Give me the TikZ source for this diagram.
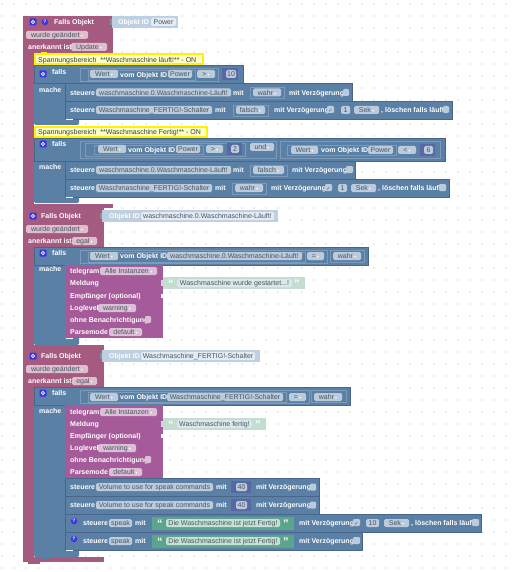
\documentclass[tikz,border=0pt]{standalone}
\usepackage{fontspec}
\setmainfont{Liberation Sans}
\newfontfamily\symfont{DejaVu Sans}
\definecolor{trigmag}{HTML}{A55B80}
\definecolor{trigpill}{HTML}{DBBFCD}
\definecolor{ctrlblue}{HTML}{5B80A5}
\definecolor{ctrledge}{HTML}{49668A}
\definecolor{ctrlline}{HTML}{7C9ABA}
\definecolor{ctrlpill}{HTML}{BBCBDB}
\definecolor{idblue}{HTML}{BDCFE0}
\definecolor{idpill}{HTML}{E4ECF3}
\definecolor{telepurple}{HTML}{A55B99}
\definecolor{telepill}{HTML}{DBBFD6}
\definecolor{quotepale}{HTML}{C3DDD0}
\definecolor{quotegreen}{HTML}{5BA58C}
\definecolor{quotepill}{HTML}{C6E0D5}
\definecolor{numindigo}{HTML}{5B67A5}
\definecolor{iconblue}{HTML}{3A35E0}
\definecolor{notefill}{HTML}{FFFFC7}
\definecolor{notestroke}{HTML}{FFF200}
\definecolor{inktext}{HTML}{4A5560}
\definecolor{griddot}{HTML}{EBEBEB}
\newcommand{\dd}{\,{\symfont\fontsize{4}{4}\selectfont\textcolor{white}{▾}}}
\tikzset{
	every node/.append style={text height=6.2pt, text depth=0.8pt},
	lab/.style={anchor=west, inner sep=0pt, text=white, font=\fontsize{7}{8}\selectfont\bfseries},
	pill/.style={draw=none, fill=ctrlpill, rounded corners=1.5pt, text=inktext},
	trigp/.style={pill, fill=trigpill},
	telep/.style={pill, fill=telepill},
	idp/.style={pill, fill=idpill},
	quotep/.style={pill, fill=quotepill},
	stmt/.style={fill=ctrlblue, draw=ctrledge, line width=0.5pt},
	slot/.style={draw=ctrlline, line width=0.4pt},
	box/.style={draw=none, fill=ctrlpill, rounded corners=1.2pt},
	qmark/.style={anchor=west, inner sep=0pt, text=white, font=\fontsize{11}{11}\selectfont\bfseries},
	helpicon/.style={circle, fill=iconblue, text=white, inner sep=0pt, minimum size=6.5pt, font=\fontsize{5}{5}\selectfont\bfseries, text height=3.6pt, text depth=0pt}
}
\begin{document}
\begin{tikzpicture}[x=1pt, y=-1pt, font=\fontsize{7}{8}\selectfont]
	\path[fill=white, use as bounding box] (0,0) rectangle (512,572);
	% --- grille ---
	\foreach \gx in {2,14,...,506} \foreach \gy in {4,16,...,568}
		\fill[griddot] (\gx-0.7,\gy-0.7) rectangle (\gx+0.7,\gy+0.7);

	% --- bloc 1 ---
	\fill[trigmag] (23,16) rectangle (113,53);
	\fill[trigmag] (23,53) rectangle (34,204);
	\fill[trigmag] (23,204) rectangle (113,208);
	\draw[fill=idblue, draw=none] (112,16) rectangle (178,28);
	\fill[idblue!70!black] (110,19) rectangle (112,25);
	\node[lab] (id1lab) at (118,22) {Objekt ID};
	\draw[idp] (151,18) rectangle (176,26) node[midway] (id1val) {Power};
	\node[helpicon] (help1) at (45,22) {?};
	\node[lab] (trig1) at (54,22) {Falls Objekt};
	\draw[trigp] (26,31) rectangle (88,39) node[midway] (chg1) {wurde geändert\dd};
	\node[lab] (ack1) at (28,47) {anerkannt ist};
	\draw[trigp] (71,43) rectangle (107,51) node[midway] (ack1val) {Update\dd};

	% --- falls 1 ---
	\fill[ctrlblue] (34,65) rectangle (65,119);
	\fill[ctrlblue, rounded corners=1.5pt] (34,115) rectangle (79,125);
	\draw[stmt] (34,65) rectangle (243,83);
	\draw[slot] (80,68) rectangle (218,81);
	\draw[slot] (88,70) rectangle (195,80);
	\node[lab] (if1) at (52,72) {falls};
	\node[lab] (do1) at (39,90) {mache};
	\draw[pill] (90,70) rectangle (118,78) node[midway] (a1) {Wert\dd};
	\node[lab] (a2) at (120,74.5) {vom Objekt ID};
	\draw[pill] (168,70) rectangle (192,78) node[midway] (a3) {Power};
	\draw[pill] (197,70) rectangle (215,78) node[midway] (a4) {>\dd};
	\draw[fill=numindigo, draw=none] (222,68) rectangle (238,80);
	\draw[pill] (226,70) rectangle (236,78) node[midway] (a5) {10};

	\draw[stmt] (65,83) rectangle (352,101);
	\node[lab] (b1) at (70,92.5) {steuere};
	\draw[pill] (96,88.5) rectangle (231,96.5) node[midway] (b2) {waschmaschine.0.Waschmaschine-Läuft!};
	\node[lab] (b3) at (233,92.5) {mit};
	\draw[slot] (250,87) rectangle (284,98);
	\draw[pill] (253,88.5) rectangle (281,96.5) node[midway] (b4) {wahr\dd};
	\node[lab] (b5) at (289,92.5) {mit Verzögerung};
	\draw[box] (343,89) rectangle (349,96);

	\draw[stmt] (65,101) rectangle (452,119);
	\node[lab] (c1) at (70,110) {steuere};
	\draw[pill] (96,106) rectangle (212,114) node[midway] (c2) {Waschmaschine\_FERTIG!-Schalter};
	\node[lab] (c3) at (215,110) {mit};
	\draw[slot] (233,105) rectangle (268,116);
	\draw[pill] (236,106) rectangle (265,114) node[midway] (c4) {falsch\dd};
	\node[lab] (c5) at (274,110) {mit Verzögerung};
	\draw[box] (327,106) rectangle (334,113) node[midway, text=inktext] (c6) {\symfont\fontsize{5}{5}\selectfont ✓};
	\draw[pill] (341,106) rectangle (350,114) node[midway] (c7) {1};
	\draw[pill] (354,106) rectangle (379,114) node[midway] (c8) {Sek\dd};
	\node[lab] (c9) at (381,110) {, löschen falls läuft};
	\draw[box] (443,106) rectangle (449,113);

	% --- commentaires ---
	\draw[fill=notefill, draw=notestroke, line width=1.5pt] (35,54) rectangle (203,64);
	\fill[notestroke] (41,52) rectangle (47,54);
	\node[anchor=west, inner sep=0pt, text=inktext!70!black] (note1) at (38,59.5) {Spannungsbereich\ \ **Waschmaschine läuft!** - ON};
	\draw[fill=notefill, draw=notestroke, line width=1.5pt] (35,127) rectangle (207,137);
	\fill[notestroke] (41,137) rectangle (47,139);
	\node[anchor=west, inner sep=0pt, text=inktext!70!black] (note2) at (38,132) {Spannungsbereich\ \ **Waschmaschine Fertig!** - ON};

	% --- falls 2 ---
	\fill[ctrlblue] (34,138) rectangle (65,197);
	\fill[ctrlblue, rounded corners=1.5pt] (34,190) rectangle (79,203);
	\draw[stmt] (34,138) rectangle (445,161);
	\draw[slot] (80,141) rectangle (276,158);
	\draw[slot] (85,143) rectangle (245,156);
	\draw[slot] (94,145) rectangle (203,154);
	\draw[slot] (280,141) rectangle (440,158);
	\draw[slot] (287,145) rectangle (396,155);
	\node[lab] (if2) at (52,144) {falls};
	\node[lab] (do2) at (39,167) {mache};
	\draw[pill] (98,145) rectangle (126,153) node[midway] (d1) {Wert\dd};
	\node[lab] (d2) at (128,149.5) {vom Objekt ID};
	\draw[pill] (176,145) rectangle (200,153) node[midway] (d3) {Power};
	\draw[pill] (206,145) rectangle (223,153) node[midway] (d4) {>\dd};
	\draw[fill=numindigo, draw=none] (227,143) rectangle (242,155);
	\draw[pill] (231,145) rectangle (239,153) node[midway] (d5) {2};
	\draw[pill] (250,143) rectangle (274,151) node[midway] (d6) {und\dd};
	\draw[pill] (291,146) rectangle (318,154) node[midway] (d7) {Wert\dd};
	\node[lab] (d8) at (321,150) {vom Objekt ID};
	\draw[pill] (368,146) rectangle (393,154) node[midway] (d9) {Power};
	\draw[pill] (398,146) rectangle (416,154) node[midway] (d10) {<\dd};
	\draw[fill=numindigo, draw=none] (420,144) rectangle (435,156);
	\draw[pill] (424,146) rectangle (433,154) node[midway] (d11) {6};

	\draw[stmt] (65,161) rectangle (355,179);
	\node[lab] (e1) at (70,170) {steuere};
	\draw[pill] (96,166) rectangle (231,174) node[midway] (e2) {waschmaschine.0.Waschmaschine-Läuft!};
	\node[lab] (e3) at (233,170) {mit};
	\draw[slot] (250,165) rectangle (287,176);
	\draw[pill] (253,166) rectangle (284,174) node[midway] (e4) {falsch\dd};
	\node[lab] (e5) at (292,170) {mit Verzögerung};
	\draw[box] (346,166) rectangle (353,173);

	\draw[stmt] (65,179) rectangle (449,197);
	\node[lab] (f1) at (70,188) {steuere};
	\draw[pill] (96,184) rectangle (212,192) node[midway] (f2) {Waschmaschine\_FERTIG!-Schalter};
	\node[lab] (f3) at (215,188) {mit};
	\draw[slot] (232,183) rectangle (266,194);
	\draw[pill] (235,184) rectangle (263,192) node[midway] (f4) {wahr\dd};
	\node[lab] (f5) at (271,188) {mit Verzögerung};
	\draw[box] (325,184) rectangle (332,191) node[midway, text=inktext] (f6) {\symfont\fontsize{5}{5}\selectfont ✓};
	\draw[pill] (338,184) rectangle (347,192) node[midway] (f7) {1};
	\draw[pill] (351,184) rectangle (376,192) node[midway] (f8) {Sek\dd};
	\node[lab] (f9) at (378,188) {, löschen falls läuft};
	\draw[box] (439,184) rectangle (446,191);

	% --- bloc 2 ---
	\fill[trigmag] (23,208) rectangle (104,247);
	\fill[trigmag] (23,247) rectangle (34,345);
	\fill[trigmag] (23,345) rectangle (104,349);
	\draw[fill=idblue, draw=none] (102,210) rectangle (278,222);
	\fill[idblue!70!black] (100,213) rectangle (102,219);
	\node[lab] (id2lab) at (109,216) {Objekt ID};
	\draw[idp] (141,212) rectangle (274,220) node[midway] (id2val) {waschmaschine.0.Waschmaschine-Läuft!};
	\node[lab] (trig2) at (41,216) {Falls Objekt};
	\draw[trigp] (26,225) rectangle (88,233) node[midway] (chg2) {wurde geändert\dd};
	\node[lab] (ack2) at (28,241) {anerkannt ist};
	\draw[trigp] (72,237) rectangle (97,245) node[midway] (ack2val) {egal\dd};

	\fill[ctrlblue] (34,247) rectangle (65,338);
	\fill[ctrlblue, rounded corners=1.5pt] (34,330) rectangle (79,345);
	\draw[stmt] (34,247) rectangle (368,265);
	\draw[slot] (80,250) rectangle (327,263);
	\draw[slot] (88,252) rectangle (305,262);
	\draw[slot] (330,250) rectangle (364,262);
	\node[lab] (if3) at (52,253) {falls};
	\node[lab] (do3) at (39,269) {mache};
	\draw[pill] (90,252) rectangle (118,260) node[midway] (g1) {Wert\dd};
	\node[lab] (g2) at (120,256) {vom Objekt ID};
	\draw[pill] (167,252) rectangle (302,260) node[midway] (g3) {waschmaschine.0.Waschmaschine-Läuft!};
	\draw[pill] (307,252) rectangle (324,260) node[midway] (g4) {=\dd};
	\draw[pill] (333,252) rectangle (361,260) node[midway] (g5) {wahr\dd};

	\fill[telepurple] (65,265) rectangle (163,338);
	\node[lab] (h1) at (70,271) {telegram};
	\draw[telep] (100,267) rectangle (157,275) node[midway] (h2) {Alle Instanzen\dd};
	\node[lab] (h3) at (70,283) {Meldung};
	\node[lab] (h4) at (70,296) {Empfänger (optional)};
	\node[lab] (h5) at (70,308) {Loglevel};
	\draw[telep] (98,304) rectangle (136,312) node[midway] (h6) {warning\dd};
	\node[lab] (h7) at (70,320) {ohne Benachrichtigung};
	\draw[fill=telepill, draw=none, rounded corners=1.2pt] (145,316) rectangle (151,323);
	\node[lab] (h8) at (70,332) {Parsemode};
	\draw[telep] (109,328) rectangle (142,336) node[midway] (h9) {default\dd};
	\fill[white] (160.5,294) rectangle (163,298);

	\fill[quotepale] (160.5,280) rectangle (163,286);
	\fill[quotepale] (163,277) rectangle (305,289);
	\node[qmark] (q1a) at (168,285) {“};
	\draw[quotep, fill=idpill!70!quotepill] (177,279) rectangle (292,287) node[midway] (q1b) {Waschmaschine wurde gestartet...!};
	\node[qmark] (q1c) at (294,285) {”};

	% --- bloc 3 ---
	\fill[trigmag] (23,349) rectangle (104,387);
	\fill[trigmag] (23,387) rectangle (34,557);
	\fill[trigmag] (23,557) rectangle (104,562);
	\fill[trigmag] (28,562) rectangle (40,564);
	\draw[fill=idblue, draw=none] (102,350) rectangle (260,362);
	\fill[idblue!70!black] (100,353) rectangle (102,359);
	\node[lab] (id3lab) at (109,356) {Objekt ID};
	\draw[idp] (141,352) rectangle (255,360) node[midway] (id3val) {Waschmaschine\_FERTIG!-Schalter};
	\node[lab] (trig3) at (41,356) {Falls Objekt};
	\draw[trigp] (26,365) rectangle (88,373) node[midway] (chg3) {wurde geändert\dd};
	\node[lab] (ack3) at (28,381) {anerkannt ist};
	\draw[trigp] (72,377) rectangle (97,385) node[midway] (ack3val) {egal\dd};

	\fill[ctrlblue] (34,387) rectangle (65,550);
	\fill[ctrlblue, rounded corners=1.5pt] (34,545) rectangle (79,557);
	\fill[ctrlblue] (41,557) rectangle (49,558.5);
	\draw[stmt] (34,387) rectangle (350,405);
	\draw[slot] (80,390) rectangle (309,403);
	\draw[slot] (88,392) rectangle (286,402);
	\draw[slot] (311,390) rectangle (346,402);
	\node[lab] (if4) at (52,393) {falls};
	\node[lab] (do4) at (39,411) {mache};
	\draw[pill] (90,393) rectangle (118,401) node[midway] (i1) {Wert\dd};
	\node[lab] (i2) at (120,397) {vom Objekt ID};
	\draw[pill] (167,393) rectangle (283,401) node[midway] (i3) {Waschmaschine\_FERTIG!-Schalter};
	\draw[pill] (289,393) rectangle (306,401) node[midway] (i4) {=\dd};
	\draw[pill] (314,393) rectangle (342,401) node[midway] (i5) {wahr\dd};

	\fill[telepurple] (65,405) rectangle (163,478);
	\node[lab] (j1) at (70,412) {telegram};
	\draw[telep] (100,408) rectangle (157,416) node[midway] (j2) {Alle Instanzen\dd};
	\node[lab] (j3) at (70,424) {Meldung};
	\node[lab] (j4) at (70,436) {Empfänger (optional)};
	\node[lab] (j5) at (70,448) {Loglevel};
	\draw[telep] (98,444) rectangle (136,452) node[midway] (j6) {warning\dd};
	\node[lab] (j7) at (70,460) {ohne Benachrichtigung};
	\draw[fill=telepill, draw=none, rounded corners=1.2pt] (145,456) rectangle (151,463);
	\node[lab] (j8) at (70,472) {Parsemode};
	\draw[telep] (109,468) rectangle (142,476) node[midway] (j9) {default\dd};
	\fill[white] (160.5,434) rectangle (163,438);

	\fill[quotepale] (160.5,421) rectangle (163,427);
	\fill[quotepale] (163,418) rectangle (266,430);
	\node[qmark] (q2a) at (168,426) {“};
	\draw[quotep, fill=idpill!70!quotepill] (177,420) rectangle (252,428) node[midway] (q2b) {Waschmaschine fertig!};
	\node[qmark] (q2c) at (255,426) {”};

	% --- volume ---
	\foreach \rowtop/\rowmid/\rowid in {478/487/k, 496/505/l} {
		\draw[stmt] (65,\rowtop) rectangle (319,\rowtop+18);
		\node[lab] (\rowid1) at (70,\rowmid) {steuere};
		\draw[pill] (96,\rowmid-4) rectangle (213,\rowmid+4) node[midway] (\rowid2) {Volume to use for speak commands};
		\node[lab] (\rowid3) at (216,\rowmid) {mit};
		\draw[fill=numindigo, draw=none] (231,\rowmid-6) rectangle (251,\rowmid+6);
		\draw[pill] (236,\rowmid-4) rectangle (247,\rowmid+4) node[midway] (\rowid4) {40};
		\node[lab] (\rowid5) at (256,\rowmid) {mit Verzögerung};
		\draw[box] (310,\rowmid-3.5) rectangle (316,\rowmid+3.5);
	}

	% --- speak ---
	\draw[stmt] (65,514) rectangle (481,532);
	\node[helpicon] (help2) at (74,521) {?};
	\node[lab] (m1) at (83,523) {steuere};
	\draw[pill] (109,519) rectangle (132,527) node[midway] (m2) {speak};
	\node[lab] (m3) at (135,523) {mit};
	\draw[fill=quotegreen, draw=none] (152,517) rectangle (294,530);
	\node[qmark] (m4) at (157,525) {“};
	\draw[quotep] (166,519) rectangle (280,527) node[midway] (m5) {Die Waschmaschine ist jetzt Fertig!};
	\node[qmark] (m6) at (283,525) {”};
	\node[lab] (m7) at (299,523) {mit Verzögerung};
	\draw[box] (353,519) rectangle (360,526) node[midway, text=inktext] (m8) {\symfont\fontsize{5}{5}\selectfont ✓};
	\draw[pill] (366,519) rectangle (379,527) node[midway] (m9) {10};
	\draw[pill] (384,519) rectangle (409,527) node[midway] (m10) {Sek\dd};
	\node[lab] (m11) at (411,523) {, löschen falls läuft};
	\draw[box] (472,519) rectangle (479,526);

	\draw[stmt] (65,532) rectangle (362,550);
	\node[helpicon] (help3) at (74,539) {?};
	\node[lab] (n1) at (83,541) {steuere};
	\draw[pill] (109,537) rectangle (132,545) node[midway] (n2) {speak};
	\node[lab] (n3) at (135,541) {mit};
	\draw[fill=quotegreen, draw=none] (152,535) rectangle (294,548);
	\node[qmark] (n4) at (157,543) {“};
	\draw[quotep] (166,537) rectangle (280,545) node[midway] (n5) {Die Waschmaschine ist jetzt Fertig!};
	\node[qmark] (n6) at (283,543) {”};
	\node[lab] (n7) at (299,541) {mit Verzögerung};
	\draw[box] (353,537) rectangle (360,544);

	% --- icones reglages ---
	\foreach \icx/\icy in {33/22, 43/74, 43/144, 33/216, 43/253, 33/356, 43/393} {
		\fill[iconblue, rounded corners=1pt] (\icx-3.5,\icy-3.5) rectangle (\icx+3.5,\icy+3.5);
		\draw[white, line width=0.7pt] (\icx,\icy) circle (1.6);
	}
	% --- coins blancs ---
	\foreach \lowy in {119, 197, 338, 550}
		\draw[white, line width=0.6pt] (66,\lowy+0.7) -- (73,\lowy+0.7);
\end{tikzpicture}
\end{document}
